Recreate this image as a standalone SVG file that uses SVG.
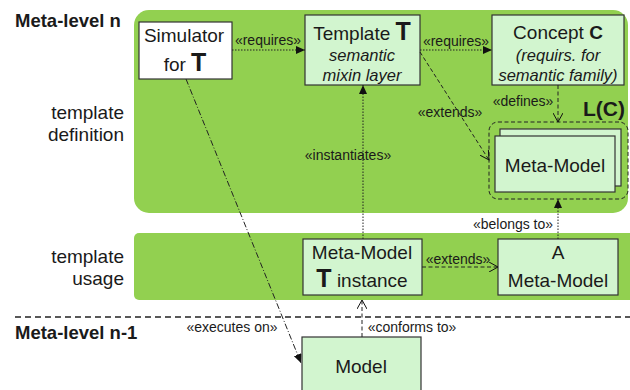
<svg xmlns="http://www.w3.org/2000/svg" width="630" height="390" viewBox="0 0 630 390">
<defs>
<style>
text{font-family:"Liberation Sans",Arial,sans-serif;fill:#1a1a1a}
.box{fill:#d2f5cf;stroke:#333;stroke-width:1.2}
.panel{fill:#92d050}
.lbl{font-size:14px}
.side{font-size:19px;text-anchor:end}
.big{font-size:19px;text-anchor:middle}
.it{font-size:16.5px;font-style:italic;text-anchor:middle}
.bold{font-weight:bold}
.dot{fill:none;stroke:#222;stroke-width:1;stroke-dasharray:1.5 1.5}
.dash{fill:none;stroke:#222;stroke-width:1;stroke-dasharray:4 2.5}
.dd{fill:none;stroke:#222;stroke-width:1;stroke-dasharray:6 2 1 2}
</style>
<marker id="fill" markerWidth="10" markerHeight="8" refX="9" refY="4" orient="auto" markerUnits="userSpaceOnUse"><path d="M0,0 L9,4 L0,8 Z" fill="#111"/></marker>
<marker id="open" markerWidth="10" markerHeight="10" refX="9" refY="5" orient="auto" markerUnits="userSpaceOnUse"><path d="M0,0 L9,5 L0,10" fill="none" stroke="#111" stroke-width="1"/></marker>
</defs>
<rect width="630" height="390" fill="#fff"/>
<g id="panels">
<rect class="panel" x="134" y="10" width="494" height="203" rx="15"/>
<rect class="panel" x="134" y="233" width="500" height="67" rx="5"/>
<line x1="15" y1="317" x2="630" y2="317" stroke="#222" stroke-width="1.5" stroke-dasharray="6 4"/>
</g>
<g id="side-labels">
<text x="15" y="27" font-size="18.5" class="bold">Meta-level n</text>
<text class="side" x="124" y="119">template</text>
<text class="side" x="124" y="141">definition</text>
<text class="side" x="124" y="263">template</text>
<text class="side" x="124" y="285">usage</text>
<text x="15" y="339" font-size="18.5" class="bold">Meta-level n-1</text>
</g>
<g id="simulator">
<rect x="139" y="22" width="93" height="57" fill="#fff" stroke="#333" stroke-width="1.2"/>
<text class="big" x="184" y="42">Simulator</text>
<text class="big" x="185" y="71">for <tspan class="bold" font-size="25">T</tspan></text>
</g>
<g id="template">
<rect class="box" x="305" y="15" width="115" height="70"/>
<text class="big" x="362" y="40">Template <tspan class="bold" font-size="25">T</tspan></text>
<text class="it" x="362" y="61">semantic</text>
<text class="it" x="362" y="81">mixin layer</text>
</g>
<g id="concept">
<rect class="box" x="492" y="15" width="132" height="70"/>
<text class="big" x="558" y="39">Concept <tspan class="bold">C</tspan></text>
<text class="it" x="558" y="61">(requirs. for</text>
<text class="it" x="558" y="81">semantic family)</text>
</g>
<g id="lc">
<rect x="489" y="122" width="139" height="77" rx="9" fill="none" stroke="#222" stroke-width="1" stroke-dasharray="4 2.5"/>
<text x="625" y="116" font-size="21" class="bold" text-anchor="end">L(C)</text>
<rect class="box" x="500" y="129" width="121" height="57"/>
<rect class="box" x="495" y="136" width="120" height="56"/>
<text class="big" x="555" y="172">Meta-Model</text>
</g>
<g id="instance">
<rect class="box" x="303" y="239" width="119" height="56"/>
<text class="big" x="362" y="259">Meta-Model</text>
<text class="big" x="362" y="287"><tspan class="bold" font-size="25">T</tspan> instance</text>
</g>
<g id="ametamodel">
<rect class="box" x="498" y="239" width="120" height="56"/>
<text class="big" x="558" y="259">A</text>
<text class="big" x="558" y="287">Meta-Model</text>
</g>
<g id="model">
<rect class="box" x="302" y="337" width="119" height="60"/>
<text class="big" x="361" y="373">Model</text>
</g>
<g id="connectors">
<line class="dot" x1="232" y1="50" x2="305" y2="50" marker-end="url(#fill)"/>
<text class="lbl" x="268" y="45" text-anchor="middle">«requires»</text>
<line class="dot" x1="420" y1="50" x2="492" y2="50" marker-end="url(#fill)"/>
<text class="lbl" x="456" y="46" text-anchor="middle">«requires»</text>
<line class="dash" x1="420" y1="52" x2="489" y2="160" marker-end="url(#open)"/>
<text class="lbl" x="450" y="117" text-anchor="middle">«extends»</text>
<line class="dash" x1="558" y1="85" x2="558" y2="122" marker-end="url(#open)"/>
<text class="lbl" x="523" y="106" text-anchor="middle">«defines»</text>
<line class="dot" x1="363" y1="239" x2="363" y2="85" marker-end="url(#fill)"/>
<text class="lbl" x="348" y="160" text-anchor="middle">«instantiates»</text>
<line class="dot" x1="558" y1="239" x2="558" y2="199" marker-end="url(#fill)"/>
<text class="lbl" x="513" y="229" text-anchor="middle">«belongs to»</text>
<line class="dash" x1="422" y1="267" x2="498" y2="267" marker-end="url(#open)"/>
<text class="lbl" x="458" y="264" text-anchor="middle">«extends»</text>
<line class="dash" x1="362" y1="337" x2="362" y2="300" marker-end="url(#open)"/>
<text class="lbl" x="412" y="332" text-anchor="middle">«conforms to»</text>
<line class="dd" x1="186" y1="79" x2="301" y2="363" marker-end="url(#fill)"/>
<text class="lbl" x="232" y="332" text-anchor="middle">«executes on»</text>
</g>
</svg>
